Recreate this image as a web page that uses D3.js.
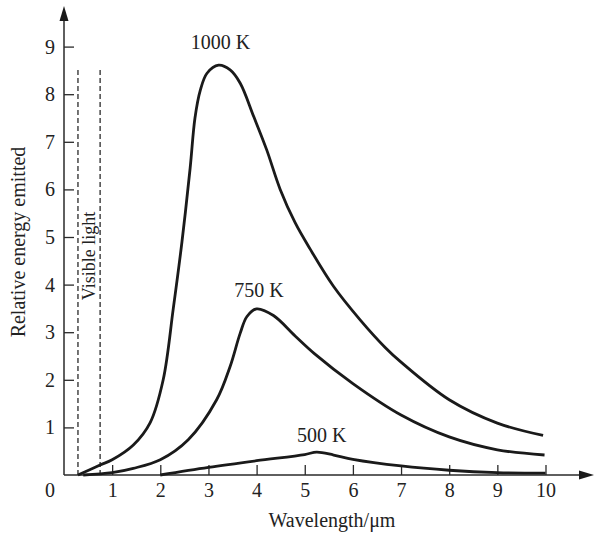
<!DOCTYPE html>
<html>
<head>
<meta charset="utf-8">
<script src="https://cdn.jsdelivr.net/npm/d3@7"></script>
<style>
  body { margin: 0; background: #fff; }
  svg text { font-family: "Liberation Serif", "Times New Roman", serif; fill: #222; }
</style>
</head>
<body>
<div id="container"></div>
<script>
// set the dimensions of the canvas/graph
var width = 594;
var height = 535;

//-----------------------------DATA------------------------------//
// wavelength (um) and relative energy
var lambda1000 = [0.29, 0.75, 1.0, 1.44, 1.79, 2.06, 2.27, 2.45, 2.62, 2.72, 2.83, 2.97, 3.21, 3.45, 3.66, 3.94, 4.21, 4.49, 4.8, 5.11, 5.6, 6.15, 6.67, 7.0, 8.0, 9.0, 9.95];
var energy1000 = [0, 0.21, 0.32, 0.63, 1.1, 2.0, 3.5, 4.9, 6.45, 7.5, 8.08, 8.44, 8.61, 8.51, 8.23, 7.53, 6.83, 6.0, 5.3, 4.75, 3.96, 3.26, 2.68, 2.37, 1.58, 1.09, 0.83];

var lambda750 = [0.4, 1.0, 1.44, 2.0, 2.58, 3.17, 3.45, 3.66, 3.8, 4.0, 4.35, 4.8, 5.2, 6.0, 7.0, 8.0, 9.0, 9.98];
var energy750 = [0, 0.05, 0.14, 0.32, 0.74, 1.58, 2.28, 2.98, 3.33, 3.49, 3.35, 2.92, 2.55, 1.92, 1.26, 0.8, 0.53, 0.42];

var lambda500 = [2.0, 3.0, 4.0, 5.0, 5.25, 5.6, 6.0, 7.0, 8.0, 9.0, 10.0];
var energy500 = [0, 0.16, 0.3, 0.43, 0.48, 0.42, 0.33, 0.19, 0.1, 0.05, 0.04];

var seriesNames = ["1000 K", "750 K", "500 K"];
// label anchor (wavelength, energy) for each curve
var labelLambda = [3.25, 4.05, 5.35];
var labelEnergy = [8.95, 3.74, 0.7];

var visibleBounds = [0.29, 0.75];
var visibleTop = 8.55;

var xTicks = [1, 2, 3, 4, 5, 6, 7, 8, 9, 10];
var yTicks = [1, 2, 3, 4, 5, 6, 7, 8, 9];

var xTitle = "Wavelength/\u03bcm";
var yTitle = "Relative energy emitted";
var visibleLabel = "Visible light";

var svg = d3.select("div#container").append("svg")
    .attr("width", width)
    .attr("height", height);

//----------------------------SCALES-----------------------------//
var xScale = d3.scaleLinear().domain([0, 10]).range([64, 545.5]);
var yScale = d3.scaleLinear().domain([0, 9]).range([475, 46.6]);

var ink = "#1a1a1a";
var axisInk = "#2a2a2a";

//-----------------------------AXES------------------------------//
var xaxis = d3.axisBottom(xScale)
    .tickValues(xTicks)
    .tickSize(-10)
    .tickPadding(8)
    .tickFormat(d3.format("d"));

var yaxis = d3.axisLeft(yScale)
    .tickValues(yTicks)
    .tickSize(-10)
    .tickPadding(9)
    .tickFormat(d3.format("d"));

var gx = svg.append("g")
    .attr("transform", "translate(0," + yScale(0) + ")")
    .call(xaxis);
var gy = svg.append("g")
    .attr("transform", "translate(" + xScale(0) + ",0)")
    .call(yaxis);

[gx, gy].forEach(function (g) {
    g.select(".domain").remove();
    g.selectAll(".tick line").attr("stroke", axisInk).attr("stroke-width", 1.3);
    g.selectAll(".tick text")
        .style("font-family", "'Liberation Serif', 'Times New Roman', serif")
        .style("font-size", "20px")
        .attr("fill", "#222");
});

// axis lines with arrow heads
svg.append("line")
    .attr("x1", xScale(0)).attr("y1", yScale(0))
    .attr("x2", 582).attr("y2", yScale(0))
    .attr("stroke", axisInk).attr("stroke-width", 1.5);
svg.append("path")
    .attr("d", "M594," + yScale(0) + "L579," + (yScale(0) - 4.5) + "L579," + (yScale(0) + 4.5) + "Z")
    .attr("fill", ink);

svg.append("line")
    .attr("x1", xScale(0)).attr("y1", yScale(0))
    .attr("x2", xScale(0)).attr("y2", 18)
    .attr("stroke", axisInk).attr("stroke-width", 1.5);
svg.append("path")
    .attr("d", "M" + xScale(0) + ",6L" + (xScale(0) - 4.5) + ",21L" + (xScale(0) + 4.5) + ",21Z")
    .attr("fill", ink);

// origin label
svg.append("text")
    .attr("x", xScale(0) - 14)
    .attr("y", yScale(0) + 22)
    .style("font-size", "20px")
    .style("text-anchor", "middle")
    .text("0");

// axis titles
svg.append("text")
    .attr("x", 332)
    .attr("y", 527)
    .style("font-size", "20px")
    .style("text-anchor", "middle")
    .text(xTitle);

svg.append("text")
    .attr("transform", "translate(25,242) rotate(-90)")
    .style("font-size", "20px")
    .style("text-anchor", "middle")
    .text(yTitle);

//----------------------------VISIBLE BAND------------------------------//
svg.selectAll(".visible")
    .data(visibleBounds)
    .enter().append("line")
    .attr("class", "visible")
    .attr("x1", function (d) { return xScale(d); })
    .attr("x2", function (d) { return xScale(d); })
    .attr("y1", yScale(0))
    .attr("y2", yScale(visibleTop))
    .attr("stroke", axisInk)
    .attr("stroke-width", 1.3)
    .attr("stroke-dasharray", "5,3");

svg.append("text")
    .attr("transform", "translate(" + (xScale((visibleBounds[0] + visibleBounds[1]) / 2) + 6) + ",256) rotate(-90)")
    .style("font-size", "18px")
    .style("text-anchor", "middle")
    .text(visibleLabel);

//----------------------------LINES------------------------------//
var slices = [
    { name: seriesNames[0], xs: lambda1000, ys: energy1000 },
    { name: seriesNames[1], xs: lambda750, ys: energy750 },
    { name: seriesNames[2], xs: lambda500, ys: energy500 }
].map(function (s, i) {
    return {
        name: s.name,
        lx: labelLambda[i],
        ly: labelEnergy[i],
        values: s.xs.map(function (x, j) { return { x: x, y: s.ys[j] }; })
    };
});

var line = d3.line()
    .x(function (d) { return xScale(d.x); })
    .y(function (d) { return yScale(d.y); })
    .curve(d3.curveCatmullRom.alpha(0.5));

var lines = svg.selectAll(".lines")
    .data(slices)
    .enter()
    .append("g");

lines.append("path")
    .attr("d", function (d) { return line(d.values); })
    .attr("fill", "none")
    .attr("stroke", ink)
    .attr("stroke-width", 2.8)
    .attr("stroke-linejoin", "round");

lines.append("text")
    .attr("x", function (d) { return xScale(d.lx); })
    .attr("y", function (d) { return yScale(d.ly); })
    .style("font-size", "20px")
    .style("text-anchor", "middle")
    .text(function (d) { return d.name; });
</script>
</body>
</html>
